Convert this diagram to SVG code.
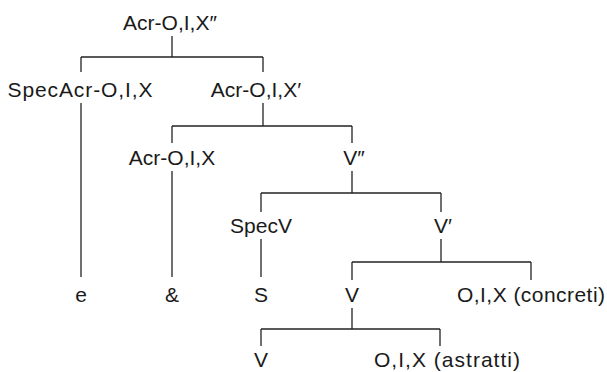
<svg xmlns="http://www.w3.org/2000/svg" width="607" height="372" viewBox="0 0 607 372">
<style>
.t{font-family:"Liberation Sans",Arial,sans-serif;font-size:21px;fill:#1a1a1a;text-anchor:middle}
.e line{stroke:#222;stroke-width:1.3;fill:none}
</style>
<rect width="607" height="372" fill="#fff"/>
<g id="connectors" class="e">
<line x1="172" y1="36" x2="172" y2="57"/>
<line x1="81" y1="57" x2="263" y2="57"/>
<line x1="81" y1="57" x2="81" y2="72"/>
<line x1="263" y1="57" x2="263" y2="72"/>
<line x1="81" y1="103" x2="81" y2="277"/>
<line x1="263" y1="103" x2="263" y2="126"/>
<line x1="172" y1="126" x2="352" y2="126"/>
<line x1="172" y1="126" x2="172" y2="143"/>
<line x1="352" y1="126" x2="352" y2="143"/>
<line x1="172" y1="171" x2="172" y2="277"/>
<line x1="352" y1="171" x2="352" y2="193"/>
<line x1="261" y1="193" x2="441" y2="193"/>
<line x1="261" y1="193" x2="261" y2="212"/>
<line x1="441" y1="193" x2="441" y2="212"/>
<line x1="261" y1="239" x2="261" y2="277"/>
<line x1="441" y1="239" x2="441" y2="262"/>
<line x1="352" y1="262" x2="531" y2="262"/>
<line x1="352" y1="262" x2="352" y2="280"/>
<line x1="531" y1="262" x2="531" y2="280"/>
<line x1="352" y1="308" x2="352" y2="329"/>
<line x1="261" y1="329" x2="440" y2="329"/>
<line x1="261" y1="329" x2="261" y2="346"/>
<line x1="440" y1="329" x2="440" y2="346"/>
</g>
<g id="n-root"><text class="t" x="170" y="30">Acr-O,I,X″</text></g>
<g id="n-specacr"><text class="t" x="80" y="97" textLength="145">SpecAcr-O,I,X</text></g>
<g id="n-acr1"><text class="t" x="256" y="97">Acr-O,I,X′</text></g>
<g id="n-acr0"><text class="t" x="172" y="165">Acr-O,I,X</text></g>
<g id="n-v2"><text class="t" x="354" y="165">V″</text></g>
<g id="n-specv"><text class="t" x="261" y="233">SpecV</text></g>
<g id="n-v1"><text class="t" x="443" y="233">V′</text></g>
<g id="n-e"><text class="t" x="81" y="302">e</text></g>
<g id="n-amp"><text class="t" x="172" y="302">&amp;</text></g>
<g id="n-s"><text class="t" x="261" y="302">S</text></g>
<g id="n-v0"><text class="t" x="352" y="302">V</text></g>
<g id="n-concreti"><text class="t" x="531" y="302" textLength="148">O,I,X (concreti)</text></g>
<g id="n-v"><text class="t" x="261" y="367">V</text></g>
<g id="n-astratti"><text class="t" x="447" y="367" textLength="146">O,I,X (astratti)</text></g>
</svg>
